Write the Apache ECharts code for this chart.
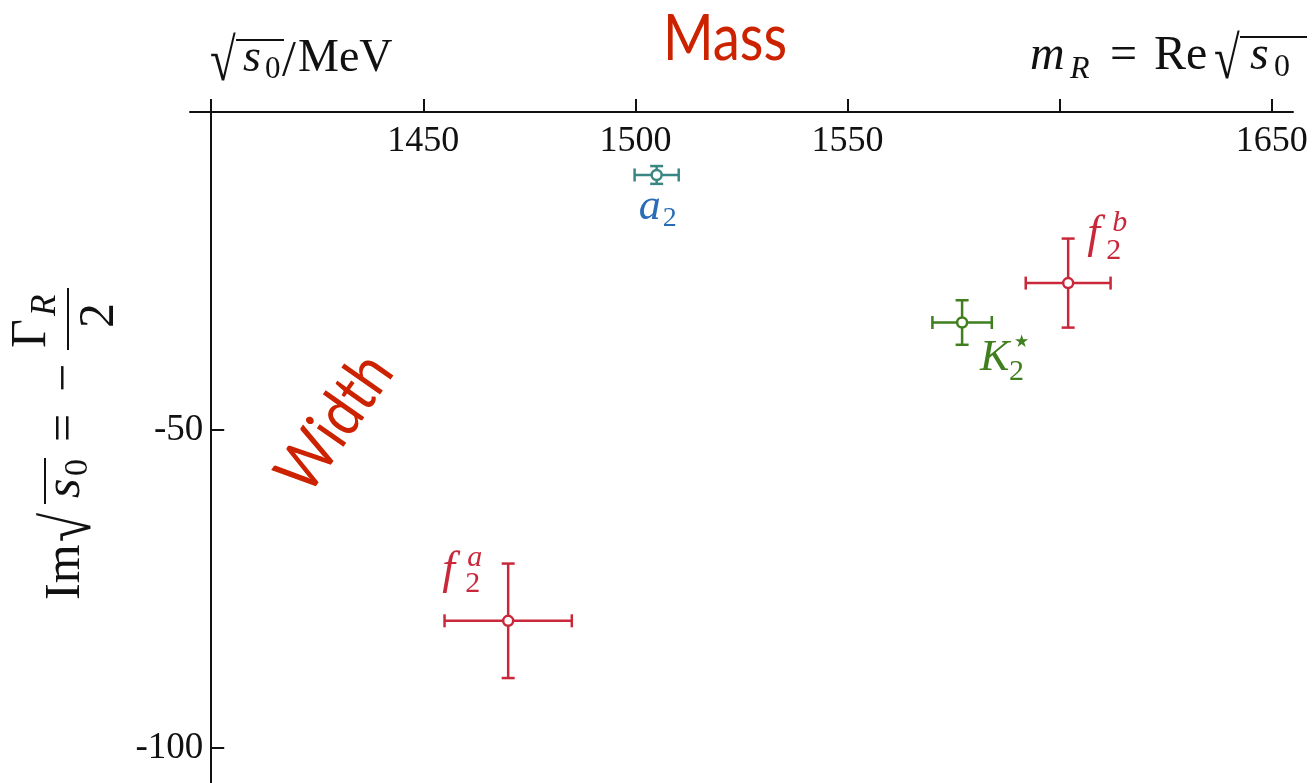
<!DOCTYPE html>
<html>
<head>
<meta charset="utf-8">
<script src="https://cdn.jsdelivr.net/npm/echarts@6/dist/echarts.min.js"></script>
<style>
  html, body { margin: 0; padding: 0; background: #fff; }
  #chart { width: 1313px; height: 783px; }
</style>
</head>
<body>
<div id="chart"></div>
<script>
// Tensor resonance poles in the complex energy plane (Re / Im of sqrt(s0), MeV)
const particles = ['a2', 'f2b', 'K2*', 'f2a'];
const massValues = [1505, 1602, 1577, 1470];
const massErrors = [5.2, 10, 7, 15];
const widthValues = [-9.9, -26.9, -33.1, -80];
const widthErrors = [1.4, 7, 3.5, 9];
const xTickValues = [1400, 1450, 1500, 1550, 1600, 1650];
const xLabelValues = [1450, 1500, 1550, 1650];
const yTickValues = [-50, -100];

const X_MIN = 1395, X_MAX = 1655, Y_MIN = -105.5, Y_MAX = 0;
const Y_AXIS_AT = 1400;
const GRID = { left: 190, right: 20, top: 112, bottom: 0 };
const SERIF = '"Liberation Serif", "Times New Roman", serif';
const SANS = 'Lato, "Open Sans", sans-serif';
const markColors = ['#3a8683', '#c9283b', '#3f7f1d', '#c9283b'];
const labelColors = ['#2a6cb8', '#c9283b', '#3f7f1d', '#c9283b'];
const TITLE_RED = '#cc2200';
const INK = '#111';

// label glyph layout around each pole (pixel offsets from the pole, baseline based)
const labelPieces = [
  [{ t: 'a', s: 44, it: 1, x: -18, y: 46 }, { t: '2', s: 28, x: 6, y: 52 }],
  [{ t: 'f', s: 46, it: 1, x: 19, y: -34 }, { t: 'b', s: 30, it: 1, x: 44, y: -51 }, { t: '2', s: 30, x: 38, y: -23 }],
  [{ t: 'K', s: 44, it: 1, x: 18, y: 49 }, { t: '\u22C6', s: 34, x: 49, y: 31, fam: '"DejaVu Sans", sans-serif' }, { t: '2', s: 30, x: 47, y: 59 }],
  [{ t: 'f', s: 46, it: 1, x: -66, y: -36 }, { t: 'a', s: 30, it: 1, x: -41, y: -54 }, { t: '2', s: 30, x: -43, y: -28 }]
];

const gridWidth = 1313 - GRID.left - GRID.right;
const yAxisOffset = -(Y_AXIS_AT - X_MIN) / (X_MAX - X_MIN) * gridWidth;

const measureCtx = document.createElement('canvas').getContext('2d');
function measure(text, font) {
  measureCtx.font = font;
  return measureCtx.measureText(text).width;
}

function piece(p, color, ox, oy) {
  const font = (p.it ? 'italic ' : '') + p.s + 'px ' + (p.fam || SERIF);
  return {
    type: 'text', silent: true,
    x: ox + p.x, y: oy + p.y - 0.305 * p.s,
    scaleX: p.sx || 1,
    style: {
      text: p.t, font: font, fill: color,
      align: 'left', verticalAlign: 'middle',
      textAlign: 'left', textVerticalAlign: 'middle'
    }
  };
}

function bar(x1, y1, x2, y2, color, w) {
  return { type: 'line', silent: true, shape: { x1, y1, x2, y2 }, style: { stroke: color, lineWidth: w } };
}

function mathGroup(x, y, rotation, color, pieces, lines) {
  const children = pieces.map(p => piece(p, color, 0, 0));
  (lines || []).forEach(l => children.push(bar(l[0], l[1], l[2], l[1], color, l[3] || 2)));
  return { type: 'group', x, y, rotation, children };
}

const chart = echarts.init(document.getElementById('chart'), null, { renderer: 'canvas' });

chart.setOption({
  animation: false,
  backgroundColor: '#fff',
  grid: { left: GRID.left, right: GRID.right, top: GRID.top, bottom: GRID.bottom, containLabel: false },
  xAxis: {
    type: 'value', position: 'top', min: X_MIN, max: X_MAX,
    axisLine: { show: true, onZero: false, lineStyle: { color: INK, width: 2 } },
    axisTick: { show: true, inside: false, length: 13, customValues: xTickValues, lineStyle: { color: INK, width: 2 } },
    axisLabel: {
      show: true, inside: true, margin: 12, customValues: xLabelValues,
      formatter: v => String(v), color: INK, fontFamily: SERIF, fontSize: 36
    },
    splitLine: { show: false }
  },
  yAxis: {
    type: 'value', min: Y_MIN, max: Y_MAX, offset: yAxisOffset,
    axisLine: { show: true, onZero: false, lineStyle: { color: INK, width: 2 } },
    axisTick: { show: true, inside: true, length: 13, customValues: yTickValues, lineStyle: { color: INK, width: 2 } },
    axisLabel: {
      show: true, margin: 8, customValues: yTickValues,
      formatter: v => String(v), color: INK, fontFamily: SERIF, fontSize: 37
    },
    splitLine: { show: false }
  },
  series: [{
    type: 'custom',
    name: 'poles',
    data: massValues.map((m, i) => [m, widthValues[i], massErrors[i], widthErrors[i]]),
    renderItem(params, api) {
      const x = api.value(0), y = api.value(1), ex = api.value(2), ey = api.value(3);
      const c = api.coord([x, y]);
      const l = api.coord([x - ex, y]), r = api.coord([x + ex, y]);
      const t = api.coord([x, y + ey]), b = api.coord([x, y - ey]);
      const color = markColors[params.dataIndex];
      const cap = 6.5, w = 2.5;
      return {
        type: 'group',
        children: [
          bar(l[0], l[1], r[0], r[1], color, w),
          bar(t[0], t[1], b[0], b[1], color, w),
          bar(l[0], l[1] - cap, l[0], l[1] + cap, color, w),
          bar(r[0], r[1] - cap, r[0], r[1] + cap, color, w),
          bar(t[0] - cap, t[1], t[0] + cap, t[1], color, w),
          bar(b[0] - cap, b[1], b[0] + cap, b[1], color, w),
          { type: 'circle', shape: { cx: c[0], cy: c[1], r: 5 }, style: { fill: '#fff', stroke: color, lineWidth: w } }
        ]
      };
    }
  }]
});

// names next to each pole, positioned from the pole's own coordinates
const graphics = [];
massValues.forEach((m, i) => {
  const p = chart.convertToPixel({ seriesIndex: 0 }, [m, widthValues[i]]);
  labelPieces[i].forEach(pc => graphics.push(piece(pc, labelColors[i], p[0], p[1])));
});

// axis captions (radicals are enlarged and narrowed to span the radicand)
graphics.push(mathGroup(210, 73, 0, INK, [
  { t: '\u221A', s: 60, sx: 0.78, x: 0, y: 10 },
  { t: 's', s: 46, it: 1, x: 33, y: 0 },
  { t: '0', s: 31, x: 55, y: 6 },
  { t: '/', s: 50, x: 72, y: 4 },
  { t: 'MeV', s: 46, x: 88, y: 0 }
], [[26, -33, 74]]));

graphics.push(mathGroup(1030, 71, 0, INK, [
  { t: 'm', s: 48, it: 1, x: 0, y: 0 },
  { t: 'R', s: 32, it: 1, x: 40, y: 8 },
  { t: '=', s: 48, x: 80, y: 0 },
  { t: 'Re', s: 48, x: 124, y: 0 },
  { t: '\u221A', s: 60, sx: 0.78, x: 184, y: 10 },
  { t: 's', s: 48, it: 1, x: 220, y: 0 },
  { t: '0', s: 32, x: 244, y: 6 }
], [[210, -34, 277]]));

graphics.push(mathGroup(81, 600, Math.PI / 2, INK, [
  { t: 'Im', s: 50, x: 0, y: 0 },
  { t: '\u221A', s: 68, sx: 0.78, x: 58, y: 12 },
  { t: 's', s: 50, it: 1, x: 102, y: 0 },
  { t: '0', s: 34, x: 124, y: 7 },
  { t: '=', s: 50, x: 158, y: 0 },
  { t: '\u2212', s: 50, x: 208, y: 0 },
  { t: '\u0393', s: 50, x: 252, y: -34 },
  { t: 'R', s: 35, it: 1, x: 284, y: -25 },
  { t: '2', s: 50, x: 272, y: 34 }
], [[96, -36, 142], [250, -13, 312]]));

// red captions
const massFont = '64px ' + SANS;
graphics.push({
  type: 'text', silent: true, x: 725, y: 60 - 0.32 * 64,
  scaleX: 124 / measure('Mass', massFont),
  style: { text: 'Mass', font: massFont, fill: TITLE_RED, align: 'center', verticalAlign: 'middle', textAlign: 'center', textVerticalAlign: 'middle' }
});
const widthFont = '64px ' + SANS;
graphics.push({
  type: 'text', silent: true, x: 335, y: 423,
  rotation: 55 * Math.PI / 180,
  scaleX: 152 / measure('Width', widthFont),
  style: { text: 'Width', font: widthFont, fill: TITLE_RED, align: 'center', verticalAlign: 'middle', textAlign: 'center', textVerticalAlign: 'middle' }
});

chart.setOption({ graphic: { elements: graphics } });
</script>
</body>
</html>
